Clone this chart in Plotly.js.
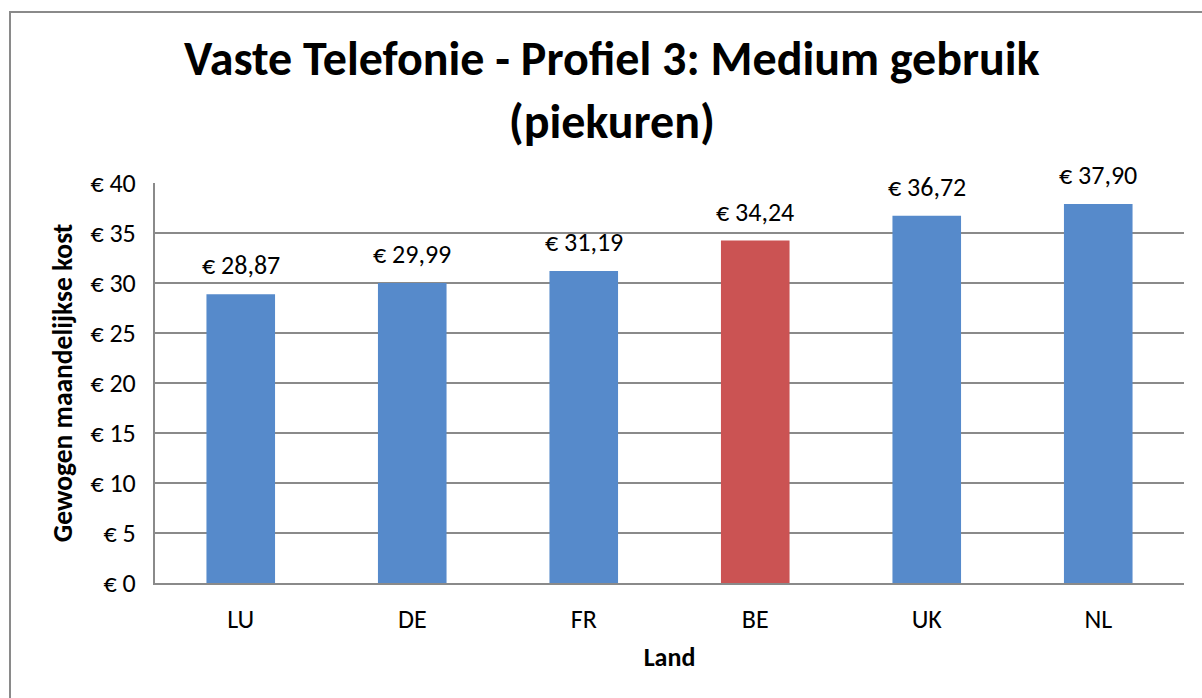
<!DOCTYPE html>
<html>
<head>
<meta charset="utf-8">
<script src="https://cdn.plot.ly/plotly-3.0.1.min.js"></script>
<style>
html,body{margin:0;padding:0;background:#fff;overflow:hidden;}
#wrap{position:relative;width:1202px;height:698px;}
#chart{width:1202px;height:698px;}
#frame{position:absolute;left:9px;top:11px;width:1300px;height:800px;border:2px solid #8a8a8a;pointer-events:none;}
</style>
</head>
<body>
<div id="wrap"><div id="chart"></div><div id="frame"></div></div>
<script>
const categories = ["LU", "DE", "FR", "BE", "UK", "NL"];
const values = [28.87, 29.99, 31.19, 34.24, 36.72, 37.90];
const highlight = "BE";
const yTicks = [0, 5, 10, 15, 20, 25, 30, 35, 40];
const yTickLabels = ["€ 0", "€ 5", "€ 10", "€ 15", "€ 20", "€ 25", "€ 30", "€ 35", "€ 40"];

const FONT = "Calibri, Carlito, 'Open Sans', 'Noto Sans', sans-serif";
const labels = values.map(v => "€ " + v.toFixed(2).replace(".", ","));
const colors = categories.map(c => c === highlight ? "#CB5353" : "#568ACB");

const trace = {
  type: "bar",
  x: categories,
  y: values,
  width: 0.4,
  marker: {color: colors, line: {width: 0}},
  cliponaxis: false,
  hoverinfo: "x+y"
};

const annotations = categories.map((c, i) => ({
  x: c, y: values[i], xref: "x", yref: "y",
  text: labels[i], showarrow: false,
  yanchor: "bottom", yshift: 11,
  font: {family: FONT, size: 26, color: "#000"}
}));

const layout = {
  width: 1202, height: 698,
  margin: {l: 155, r: 18, t: 183, b: 115},
  paper_bgcolor: "#fff", plot_bgcolor: "#fff",
  showlegend: false,
  bargap: 0.6,
  annotations: annotations,
  title: {
    text: "<b>Vaste Telefonie - Profiel 3: Medium gebruik<br>(piekuren)</b>",
    font: {family: FONT, size: 48, color: "#000"},
    x: 0.509, xanchor: "center", xref: "container",
    y: 0.892, yanchor: "top", yref: "container"
  },
  xaxis: {
    type: "category",
    showgrid: false,
    showline: true, linecolor: "#8a8a8a", linewidth: 2,
    ticks: "",
    ticklabelstandoff: 12,
    tickfont: {family: FONT, size: 26, color: "#000"},
    title: {text: "<b>Land</b>", font: {family: FONT, size: 26, color: "#000"}, standoff: 14}
  },
  yaxis: {
    range: [0, 40],
    tickvals: yTicks, ticktext: yTickLabels,
    showgrid: true, gridcolor: "#8a8a8a", gridwidth: 1.8,
    showline: true, linecolor: "#8a8a8a", linewidth: 2,
    zeroline: false,
    ticks: "",
    ticklabelstandoff: 12,
    tickfont: {family: FONT, size: 26, color: "#000"},
    title: {text: "<b>Gewogen maandelijkse kost</b>", font: {family: FONT, size: 27.5, color: "#000"}, standoff: 10}
  }
};

Plotly.newPlot("chart", [trace], layout, {displayModeBar: false, staticPlot: true});
</script>
</body>
</html>
